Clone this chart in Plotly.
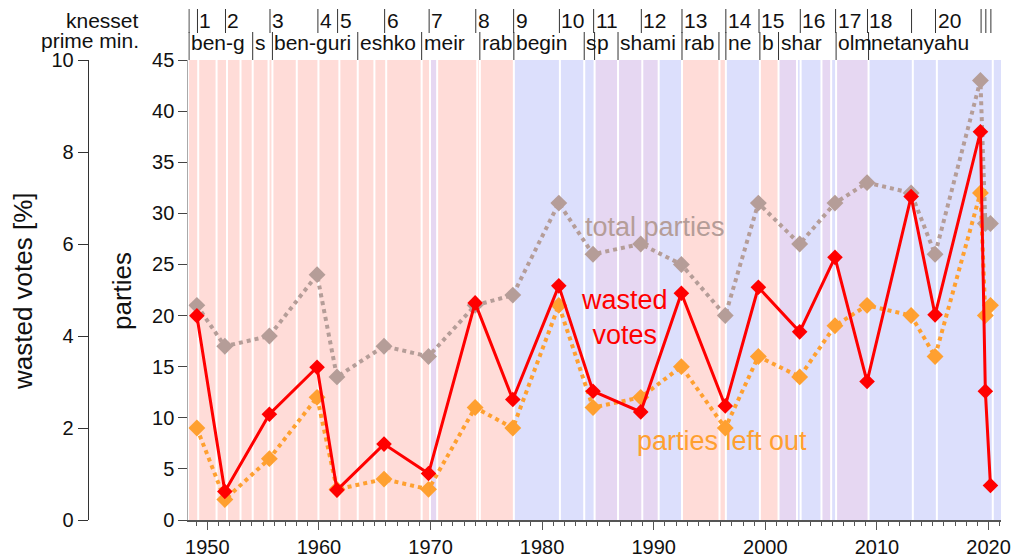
import plotly.graph_objects as go

# ---------------- data ----------------
election_dates = ["1949-01-25", "1951-07-30", "1955-07-26", "1959-11-03", "1961-08-15",
                  "1965-11-02", "1969-10-28", "1973-12-31", "1977-05-17", "1981-06-30",
                  "1984-07-23", "1988-11-01", "1992-06-23", "1996-05-29", "1999-05-17",
                  "2003-01-28", "2006-03-28", "2009-02-10", "2013-01-22", "2015-03-17",
                  "2019-04-09", "2019-09-17", "2020-03-02"]
total_parties = [21, 17, 18, 24, 14, 17, 16, 21, 22, 31, 26, 27, 25, 20, 31, 27, 31, 33, 32, 26, 43, 29, 29]
parties_left_out = [9, 2, 6, 12, 3, 4, 3, 11, 9, 21, 11, 12, 15, 9, 16, 14, 19, 21, 20, 16, 32, 20, 21]
wasted_votes = [4.44, 0.62, 2.30, 3.32, 0.65, 1.65, 1.01, 4.72, 2.62, 5.09, 2.80, 2.35, 4.93,
                2.48, 5.06, 4.09, 5.71, 3.01, 7.03, 4.46, 8.44, 2.80, 0.75]

# governments: start date and camp (L = labour-led, R = likud-led, U = unity)
gov_start = ["1948-05-14", "1949-03-10", "1950-11-01", "1951-10-08", "1952-12-24", "1954-01-26",
             "1955-06-29", "1955-11-03", "1958-01-07", "1959-12-17", "1961-11-02", "1963-06-26",
             "1964-12-22", "1966-01-12", "1969-03-17", "1969-12-15", "1970-08-06", "1974-03-10",
             "1974-06-03", "1977-06-20", "1981-08-05", "1983-10-10", "1984-09-13", "1986-10-20",
             "1988-12-22", "1990-06-11", "1992-07-13", "1995-11-22", "1996-06-18", "1999-07-06",
             "2001-03-07", "2002-11-02", "2003-02-28", "2005-01-10", "2005-11-23", "2006-05-04",
             "2009-03-31", "2013-03-18", "2015-05-14", "2020-05-17"]
gov_camp = ["L", "L", "L", "L", "L", "L", "L", "L", "L", "L", "L", "L", "L", "L", "L", "U", "L", "L",
            "L", "R", "R", "R", "U", "U", "U", "R", "L", "L", "R", "L", "U", "R", "R", "U", "R", "U",
            "R", "R", "R", "R"]
range_start, range_end = "1948-04-20", "2021-02-10"

knesset_start = ["1948-05-14", "1949-02-14", "1951-08-20", "1955-08-15", "1959-11-30", "1961-09-04",
                 "1965-11-22", "1969-11-17", "1974-01-21", "1977-06-13", "1981-07-20", "1984-08-13",
                 "1988-11-21", "1992-07-13", "1996-06-17", "1999-06-07", "2003-02-17", "2006-04-17",
                 "2009-02-24", "2013-02-05", "2015-03-31", "2019-04-30", "2019-10-03", "2020-03-16"]
knesset_label = ["", "1", "2", "3", "4", "5", "6", "7", "8", "9", "10", "11", "12", "13", "14", "15",
                 "16", "17", "18", "", "20", "", "", ""]

pm_start = ["1948-05-14", "1954-01-26", "1955-11-03", "1963-06-26", "1969-03-17", "1974-06-03",
            "1977-06-20", "1983-10-10", "1984-09-13", "1986-10-20", "1992-07-13", "1995-11-04",
            "1996-06-18", "1999-07-06", "2001-03-07", "2006-05-04", "2009-03-31"]
pm_label = ["ben-g", "s", "ben-guri", "eshko", "meir", "rab", "begin", "s", "p", "shami", "rab", "",
            "ne", "b", "shar", "olm", "netanyahu"]

# ---------------- styles ----------------
FONT = "Liberation Sans"
camp_color = {"L": "#ffdcd8", "R": "#dcdffc", "U": "#e6d7f2"}
GRAY = "#b59d98"
ORANGE = "#ffa030"
RED = "#ff0000"

W, H = 1014, 558
ML, MR, MT, MB = 10, 13, 60, 38
PW = W - ML - MR
PH = H - MT - MB


def px_x(px):
    return (px - ML) / PW


def px_y(py):
    return (H - MB - py) / PH


fig = go.Figure()

fig.add_trace(go.Scatter(x=election_dates, y=total_parties, mode="lines+markers",
                         line=dict(color=GRAY, width=4, dash="dot"),
                         marker=dict(symbol="diamond", size=13, color=GRAY),
                         yaxis="y", showlegend=False))
fig.add_trace(go.Scatter(x=election_dates, y=parties_left_out, mode="lines+markers",
                         line=dict(color=ORANGE, width=4, dash="dot"),
                         marker=dict(symbol="diamond", size=13, color=ORANGE),
                         yaxis="y", showlegend=False))
fig.add_trace(go.Scatter(x=election_dates, y=wasted_votes, mode="lines+markers",
                         line=dict(color=RED, width=3),
                         marker=dict(symbol="diamond", size=12, color=RED),
                         yaxis="y2", showlegend=False))

shapes = []
ends = gov_start[1:] + [range_end]
for s, e, c in zip(gov_start, ends, gov_camp):
    shapes.append(dict(type="rect", xref="x", yref="paper", x0=s, x1=e, y0=0, y1=1,
                       fillcolor=camp_color[c], line=dict(width=0), layer="below"))
for s in gov_start[1:]:
    shapes.append(dict(type="line", xref="x", yref="paper", x0=s, x1=s, y0=0, y1=1,
                       line=dict(color="white", width=2), layer="below"))

# header lines
for s in knesset_start:
    shapes.append(dict(type="line", xref="x", yref="paper", x0=s, x1=s,
                       y0=px_y(33), y1=px_y(9), line=dict(color="#333", width=1)))
for s in pm_start:
    shapes.append(dict(type="line", xref="x", yref="paper", x0=s, x1=s,
                       y0=px_y(60), y1=px_y(32), line=dict(color="#333", width=1)))

annotations = []
for s, t in zip(knesset_start, knesset_label):
    if t:
        annotations.append(dict(x=s, y=px_y(21), xref="x", yref="paper", text=t, showarrow=False,
                                xanchor="left", yanchor="middle", font=dict(family=FONT, size=21, color="#111")))
for s, t in zip(pm_start, pm_label):
    if t:
        annotations.append(dict(x=s, y=px_y(42), xref="x", yref="paper", text=t, showarrow=False,
                                xanchor="left", yanchor="middle", font=dict(family=FONT, size=21, color="#111")))

annotations += [
    dict(x=px_x(141), y=px_y(21), xref="paper", yref="paper", text="knesset", showarrow=False,
         xanchor="right", yanchor="middle", font=dict(family=FONT, size=21, color="#111")),
    dict(x=px_x(141), y=px_y(41), xref="paper", yref="paper", text="prime min.", showarrow=False,
         xanchor="right", yanchor="middle", font=dict(family=FONT, size=21, color="#111")),
    dict(x=px_x(23), y=px_y(291), xref="paper", yref="paper", text="wasted votes [%]", showarrow=False,
         textangle=-90, xanchor="center", yanchor="middle", font=dict(family=FONT, size=26, color="#111")),
    dict(x=px_x(122), y=px_y(291), xref="paper", yref="paper", text="parties", showarrow=False,
         textangle=-90, xanchor="center", yanchor="middle", font=dict(family=FONT, size=26, color="#111")),
    dict(x=px_x(655), y=px_y(227), xref="paper", yref="paper", text="total parties", showarrow=False,
         xanchor="center", yanchor="middle", font=dict(family=FONT, size=27, color=GRAY)),
    dict(x=px_x(624), y=px_y(317), xref="paper", yref="paper", text="wasted<br>votes", showarrow=False,
         xanchor="center", yanchor="middle", align="center", font=dict(family=FONT, size=27, color=RED)),
    dict(x=px_x(722), y=px_y(441), xref="paper", yref="paper", text="parties left out", showarrow=False,
         xanchor="center", yanchor="middle", font=dict(family=FONT, size=27, color=ORANGE)),
]

fig.update_layout(
    width=W, height=H, autosize=False,
    margin=dict(l=ML, r=MR, t=MT, b=MB, autoexpand=False),
    paper_bgcolor="white", plot_bgcolor="white",
    font=dict(family=FONT, size=20, color="#111"),
    xaxis=dict(type="date", range=[range_start, range_end], domain=[px_x(188.3), 1],
               tick0="1950-01-01", dtick="M120", tickformat="%Y", automargin=False,
               ticks="outside", ticklen=8, tickcolor="#555", showline=True, linecolor="#555",
               linewidth=1.5, showgrid=False, zeroline=False, tickfont=dict(size=20),
               minor=dict(dtick="M12", ticks="outside", ticklen=4, tickcolor="#555", showgrid=False)),
    yaxis=dict(range=[0, 45], tickvals=list(range(0, 46, 5)), ticks="outside", ticklen=9,
               tickcolor="#444", showline=True, linecolor="#aaa", showgrid=False, zeroline=False,
               tickfont=dict(size=20), automargin=False),
    yaxis2=dict(range=[0, 10], tickvals=list(range(0, 11, 2)), overlaying="y", anchor="free",
                position=px_x(87.7), side="left", ticks="outside", ticklen=10, tickcolor="#333",
                showline=True, linecolor="#333", showgrid=False, zeroline=False,
                tickfont=dict(size=20), automargin=False),
    shapes=shapes,
    annotations=annotations,
)

fig.write_html("out.html", config={"displayModeBar": False},
               post_script="document.body.style.margin='0';document.body.style.overflow='hidden';")
